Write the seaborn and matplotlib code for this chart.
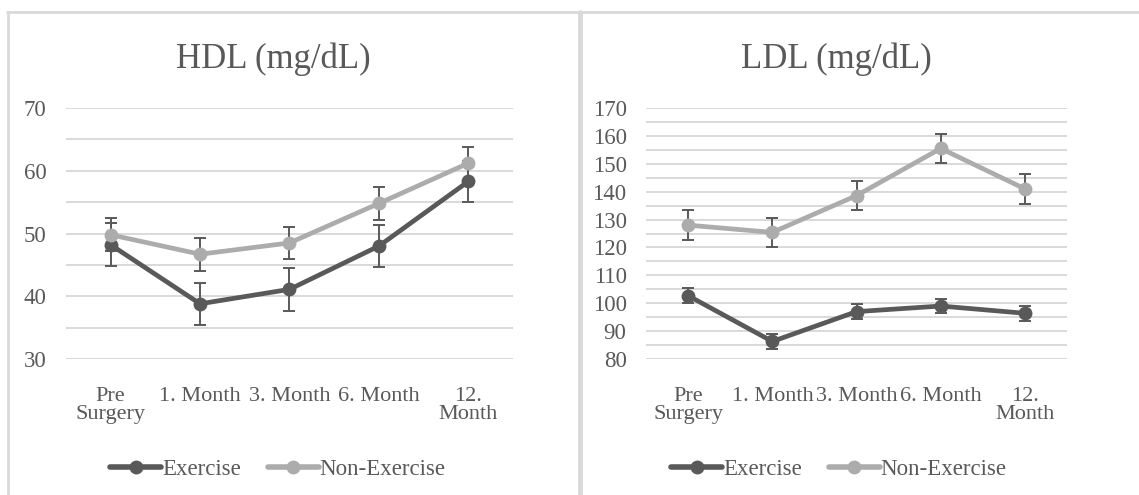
import matplotlib
matplotlib.use("Agg")
import matplotlib.pyplot as plt
from matplotlib.ticker import MultipleLocator
from matplotlib.lines import Line2D
import seaborn as sns
import pandas as pd

timepoints = ["Pre\nSurgery", "1. Month", "3. Month", "6. Month", "12.\nMonth"]
groups = ["Exercise", "Non-Exercise"]

hdl_exercise = [48.2, 38.8, 41.1, 48.0, 58.3]
hdl_exercise_err = [3.4, 3.3, 3.4, 3.4, 3.3]
hdl_nonexercise = [49.8, 46.7, 48.5, 54.8, 61.2]
hdl_nonexercise_err = [2.6, 2.6, 2.6, 2.6, 2.6]

ldl_exercise = [102.7, 86.3, 97.0, 99.0, 96.4]
ldl_exercise_err = [2.7, 2.8, 2.7, 2.6, 2.7]
ldl_nonexercise = [128.0, 125.4, 138.6, 155.5, 141.0]
ldl_nonexercise_err = [5.3, 5.3, 5.3, 5.3, 5.3]

TEXT = "#595959"
COLORS = {"Exercise": "#595959", "Non-Exercise": "#acacac"}
GRID = "#d9d9d9"

sns.set_theme(style="white")
plt.rcParams["font.family"] = ["Liberation Serif", "DejaVu Serif"]


def make_df(ex, ex_err, nex, nex_err):
    rows = []
    for g, vals, errs in [("Exercise", ex, ex_err), ("Non-Exercise", nex, nex_err)]:
        for i, (t, v, e) in enumerate(zip(timepoints, vals, errs)):
            rows.append({"time": t, "pos": i, "value": v, "err": e, "group": g})
    return pd.DataFrame(rows)


hdl = make_df(hdl_exercise, hdl_exercise_err, hdl_nonexercise, hdl_nonexercise_err)
ldl = make_df(ldl_exercise, ldl_exercise_err, ldl_nonexercise, ldl_nonexercise_err)

fig = plt.figure(figsize=(11.39, 4.95), dpi=100)
ax1 = fig.add_axes([0.0579, 0.2747, 0.3925, 0.5071])
ax2 = fig.add_axes([0.5672, 0.2747, 0.3696, 0.5071])


def draw(ax, df, ylim, title, title_x, legend_x):
    z = 2
    for g in groups:
        sub = df[df["group"] == g]
        ax.errorbar(sub["pos"], sub["value"], yerr=sub["err"], fmt="none",
                    ecolor="#595959", elinewidth=1.4, capsize=4.5, capthick=1.4,
                    zorder=z)
        sns.lineplot(data=sub, x="pos", y="value", ax=ax, color=COLORS[g],
                     linewidth=3.4, marker="o", markersize=10,
                     markeredgewidth=0, zorder=z + 1, legend=False)
        z += 2
    ax.set_xlim(-0.5, len(timepoints) - 0.5)
    ax.set_ylim(*ylim)
    ax.set_xticks(range(len(timepoints)))
    ax.set_xticklabels(timepoints, linespacing=0.95)
    ax.yaxis.set_major_locator(MultipleLocator(10))
    ax.yaxis.set_minor_locator(MultipleLocator(5))
    ax.grid(True, which="both", axis="y", color=GRID, linewidth=1.4)
    ax.set_axisbelow(True)
    ax.tick_params(axis="y", which="both", length=0, pad=14, labelsize=16.5,
                   labelcolor=TEXT)
    ax.tick_params(axis="x", length=0, pad=20, labelsize=16, labelcolor=TEXT)
    ax.set_xlabel("")
    ax.set_ylabel("")
    for s in ax.spines.values():
        s.set_visible(False)
    fig.text(title_x, 0.863, title, ha="center", va="baseline",
             fontsize=25, color=TEXT)
    handles = [Line2D([], [], color=COLORS[g], linewidth=4, marker="o",
                      markersize=10, markeredgewidth=0) for g in groups]
    fig.legend(handles, groups, loc="center",
               bbox_to_anchor=(legend_x, 0.052), ncol=2, frameon=False,
               fontsize=16.5, labelcolor=TEXT, handlelength=2.2,
               handletextpad=0.05, columnspacing=1.2)


draw(ax1, hdl, (30, 70), "HDL (mg/dL)", 273 / 1139, 278 / 1139)
draw(ax2, ldl, (80, 170), "LDL (mg/dL)", 836 / 1139, 839 / 1139)

# chart frames
border = dict(color="#d9d9d9", linewidth=2, transform=fig.transFigure)
fig.add_artist(Line2D([0.006, 1.0], [1 - 12 / 495] * 2, **border))
fig.add_artist(Line2D([8 / 1139] * 2, [0, 1 - 12 / 495], **border))
fig.add_artist(Line2D([580 / 1139] * 2, [0, 1 - 12 / 495], color="#d9d9d9",
                      linewidth=3.5, transform=fig.transFigure))

fig.savefig("out.png", dpi=100, facecolor="white")
